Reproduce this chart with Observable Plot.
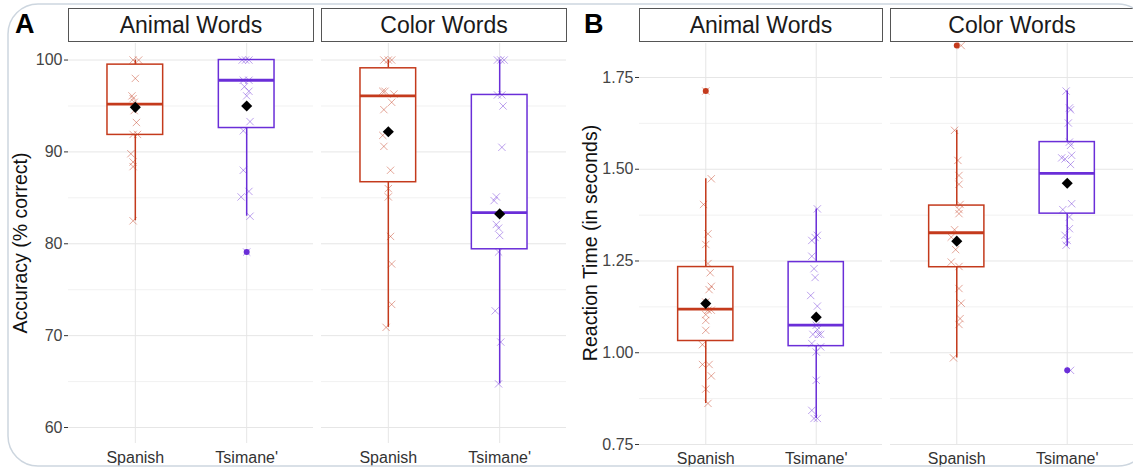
<!DOCTYPE html>
<html><head><meta charset="utf-8">
<script src="https://cdn.jsdelivr.net/npm/d3@7"></script>
<script src="https://cdn.jsdelivr.net/npm/@observablehq/plot@0.6"></script>
<style>
body{margin:0;background:#fff;font-family:"Liberation Sans",Arial,sans-serif;}
#wrap{position:relative;width:1133px;height:468px;overflow:hidden;background:#fff;}
#row{display:flex;position:absolute;left:0;top:0;}
#over{position:absolute;left:0;top:0;pointer-events:none;}
</style></head><body>
<div id="wrap"><div id="row"></div>
<svg id="over" width="1133" height="468">
  <rect x="8" y="4" width="1140" height="462" rx="30" ry="30" fill="none" stroke="#cdd6df" stroke-width="1.5"></rect>
  <text x="15" y="33" font-family="Liberation Sans, Arial, sans-serif" font-weight="bold" font-size="27" fill="#000">A</text>
  <text x="584" y="33" font-family="Liberation Sans, Arial, sans-serif" font-weight="bold" font-size="27" fill="#000">B</text>
  <text transform="translate(27,243) rotate(-90)" text-anchor="middle" font-family="Liberation Sans, Arial, sans-serif" font-size="19.5" fill="#111">Accuracy (% correct)</text>
  <text transform="translate(597,243) rotate(-90)" text-anchor="middle" font-family="Liberation Sans, Arial, sans-serif" font-size="19.5" fill="#111">Reaction Time (in seconds)</text>
</svg>
</div>
<script>
// ---------- data ----------
const groups = ["Spanish", "Tsimane'"];
const wordTypes = ["Animal Words", "Color Words"];
// cell order: Animal/Spanish, Animal/Tsimane', Color/Spanish, Color/Tsimane'
const cellWord = ["Animal Words", "Animal Words", "Color Words", "Color Words"];
const cellGroup = ["Spanish", "Tsimane'", "Spanish", "Tsimane'"];

// Panel A: accuracy (% correct)
const accLo   = [82.5, 83.0, 70.9, 64.75];
const accQ1   = [91.85, 92.6, 86.7, 79.4];
const accMed  = [95.2, 97.8, 96.1, 83.4];
const accQ3   = [99.5, 100, 99.1, 96.2];
const accHi   = [100, 100, 100, 100];
const accMean = [94.85, 95.0, 92.2, 83.25];
const accOutliers = [[], [79.1], [], []];
// individual participants: [value, horizontal jitter]
const accPoints = [
  [[100,-0.02],[100,0.03],[98.0,0],[96.1,-0.03],[95.8,-0.02],[95.4,-0.01],[94.5,-0.01],[93.2,0.01],[91.9,-0.02],[91.9,0.02],[89.8,-0.04],[88.9,-0.02],[88.4,-0.02],[82.5,-0.02]],
  [[100,-0.04],[100,-0.01],[100,0.02],[97.8,-0.03],[97.8,0.02],[97.1,-0.02],[96.6,0.02],[96.1,0],[93.3,0.03],[92.3,-0.03],[88.0,-0.03],[85.7,0.02],[85.1,-0.05],[83.0,0.03],[79.1,0]],
  [[100,-0.04],[100,0],[100,0.03],[96.6,-0.05],[96.6,-0.03],[96.3,0.05],[95.4,0.03],[94.6,-0.04],[91.8,-0.05],[90.6,-0.04],[88.0,0.02],[86.0,0],[85.1,0],[80.8,0.02],[77.8,0.03],[73.4,0.03],[70.9,-0.02]],
  [[100,-0.02],[100,0.01],[100,0.04],[96.2,-0.02],[96.2,0.02],[95.0,0.03],[90.5,0.02],[85.1,-0.03],[84.7,-0.05],[82.1,-0.03],[81.7,-0.01],[80.9,0],[79.1,-0.01],[72.7,-0.04],[69.3,0.01],[64.75,-0.01]]
];
const accMajor = [60, 70, 80, 90, 100];
const accMinor = [65, 75, 85, 95];

// Panel B: reaction time (s)
const rtLo   = [0.862, 0.821, 0.986, 1.290];
const rtQ1   = [1.032, 1.018, 1.233, 1.379];
const rtMed  = [1.119, 1.075, 1.327, 1.489];
const rtQ3   = [1.2335, 1.247, 1.401, 1.574];
const rtHi   = [1.474, 1.392, 1.606, 1.713];
const rtMean = [1.134, 1.097, 1.304, 1.462];
const rtOutliers = [[1.713], [], [1.837], [0.952]];
const rtPoints = [
  [[1.713,0],[1.474,0.05],[1.404,-0.02],[1.324,0.02],[1.295,0],[1.243,0.02],[1.218,0.04],[1.181,0.05],[1.172,0.03],[1.138,0],[1.116,0.02],[1.116,0.05],[1.104,0],[1.088,0],[1.061,0],[1.022,-0.03],[0.968,-0.03],[0.968,0.03],[0.937,0.05],[0.901,0],[0.862,0.02]],
  [[1.392,0.01],[1.320,0.01],[1.314,-0.01],[1.306,-0.04],[1.263,-0.04],[1.229,-0.02],[1.205,-0.01],[1.156,-0.05],[1.127,0.01],[1.075,0],[1.063,0.01],[1.050,-0.03],[1.050,0.02],[1.050,0.04],[1.025,-0.04],[1.016,0.04],[1.002,0],[0.925,0],[0.843,-0.04],[0.821,-0.02],[0.821,0.01]],
  [[1.837,0.04],[1.606,-0.02],[1.524,0.01],[1.483,0.02],[1.459,0.02],[1.404,0.03],[1.390,0.02],[1.379,0.02],[1.335,-0.02],[1.315,-0.05],[1.281,-0.01],[1.247,-0.05],[1.235,0.02],[1.175,0.02],[1.135,0.04],[1.093,0.03],[1.077,0.02],[0.986,-0.03]],
  [[1.713,-0.01],[1.667,0.02],[1.662,0.03],[1.626,0.01],[1.574,0.02],[1.565,0.03],[1.538,0.04],[1.531,-0.05],[1.528,-0.02],[1.513,0.03],[1.406,0.04],[1.390,-0.04],[1.370,0.02],[1.338,0.02],[1.320,-0.02],[1.306,0],[1.293,-0.01],[0.952,0.03]]
];
const rtMajor = [0.75, 1.00, 1.25, 1.50, 1.75];
const rtMinor = [0.875, 1.125, 1.375, 1.625];

const groupColors = ["#c43a1c", "#6a2ed8"];

// ---------- chart ----------
function panel(o) {
  const cells = cellWord.map((w, i) => ({
    word: w, group: cellGroup[i], gi: groups.indexOf(cellGroup[i]) + 1,
    lo: o.lo[i], q1: o.q1[i], med: o.med[i], q3: o.q3[i], hi: o.hi[i], mean: o.mean[i]
  }));
  const pts = cells.flatMap((c, i) => o.points[i].map(([v, j]) => ({word: c.word, group: c.group, x: c.gi + j, v})));
  const outs = cells.flatMap((c, i) => o.outliers[i].map(v => ({word: c.word, group: c.group, x: c.gi, v})));
  const plotH = 468 - 43 - o.marginBottom;
  return Plot.plot({
    width: o.width, height: 468,
    marginLeft: o.marginLeft, marginRight: o.marginRight, marginTop: 43, marginBottom: o.marginBottom,
    style: {background: "transparent", fontFamily: "Liberation Sans, Arial, sans-serif", overflow: "visible"},
    fx: {domain: wordTypes, paddingInner: 0.032, paddingOuter: 0, axis: null},
    x: {domain: [0.4, 2.6]},
    y: {domain: o.yDomain},
    color: {domain: groups, range: groupColors},
    marks: [
      Plot.ruleY(o.minor, {stroke: "#f1f1f1", strokeWidth: 1}),
      Plot.ruleY(o.major, {stroke: "#e6e6e6", strokeWidth: 1}),
      Plot.ruleX([1, 2], {stroke: "#e6e6e6", strokeWidth: 1}),
      Plot.frame({insetTop: -35, insetBottom: plotH + 2, stroke: "#555", fill: "white", strokeWidth: 1}),
      Plot.text(wordTypes, {fx: d => d, text: d => d, frameAnchor: "top", lineAnchor: "middle", dy: -18, fontSize: 23, fill: "#1a1a1a"}),
      Plot.ruleX(cells, {fx: "word", x: "gi", y1: "q3", y2: "hi", stroke: "group", strokeWidth: 1.5}),
      Plot.ruleX(cells, {fx: "word", x: "gi", y1: "lo", y2: "q1", stroke: "group", strokeWidth: 1.5}),
      Plot.rect(cells, {fx: "word", x1: d => d.gi - 0.25, x2: d => d.gi + 0.25, y1: "q1", y2: "q3", stroke: "group", fill: "white", strokeWidth: 1.5}),
      Plot.ruleY(cells, {fx: "word", x1: d => d.gi - 0.25, x2: d => d.gi + 0.25, y: "med", stroke: "group", strokeWidth: 2.8}),
      Plot.dot(outs, {fx: "word", x: "x", y: "v", fill: "group", r: 3}),
      Plot.dot(pts, {fx: "word", x: "x", y: "v", symbol: "times", stroke: "group", r: 3.4, strokeOpacity: 0.45, strokeWidth: 1}),
      Plot.dot(cells, {fx: "word", x: "gi", y: "mean", symbol: "diamond2", fill: "black", r: 5}),
      Plot.axisY({ticks: o.major, tickFormat: o.fmt, tickSize: 4, tickPadding: 2, fontSize: 16, stroke: "#333", fill: "#444", label: null}),
      Plot.axisX({ticks: [1, 2], tickFormat: i => groups[i - 1], tickSize: 0, tickPadding: 8, fontSize: 16, fill: "#333", label: null})
    ]
  });
}

const row = document.getElementById("row");
row.append(panel({
  width: 567, marginLeft: 67, marginRight: 1, marginBottom: 25,
  yDomain: [58.26, 101.8], major: accMajor, minor: accMinor, fmt: d => String(d),
  lo: accLo, q1: accQ1, med: accMed, q3: accQ3, hi: accHi, mean: accMean,
  points: accPoints, outliers: accOutliers
}));
row.append(panel({
  width: 566, marginLeft: 72, marginRight: 0, marginBottom: 24,
  yDomain: [0.75, 1.8426], major: rtMajor, minor: rtMinor, fmt: d3.format(".2f"),
  lo: rtLo, q1: rtQ1, med: rtMed, q3: rtQ3, hi: rtHi, mean: rtMean,
  points: rtPoints, outliers: rtOutliers
}));
</script>
</body></html>
